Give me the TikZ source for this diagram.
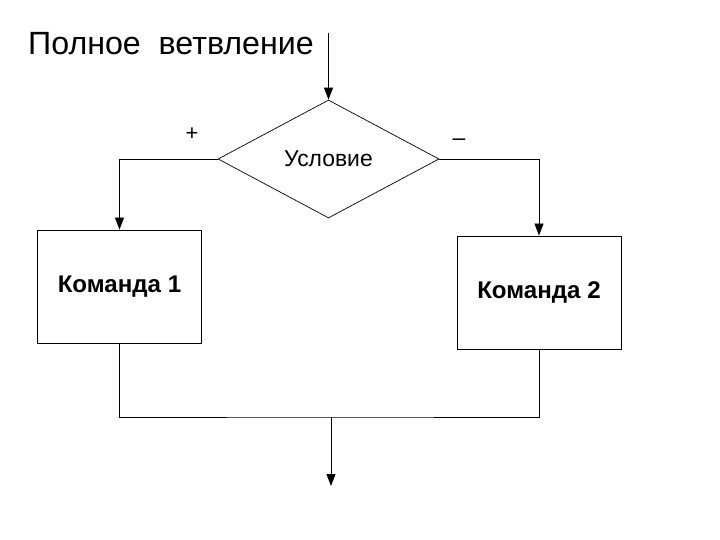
\documentclass[tikz,border=0pt]{standalone}
\usepackage{fontspec}
\setmainfont{Liberation Sans}
\usetikzlibrary{positioning,shapes,arrows.meta}

\begin{document}
\begin{tikzpicture}[x=1bp,y=-1bp]
\tikzstyle{every node}+=[inner sep=0pt]
\tikzstyle{block}=[draw=black, line width=0.9bp, rectangle, minimum width=164bp, minimum height=113bp, font=\fontsize{24.2}{27}\selectfont\bfseries]
\tikzstyle{cond}=[draw=black, line width=0.7bp, diamond, minimum width=221bp, minimum height=118bp, font=\fontsize{23}{26}\selectfont]
\tikzstyle{link}=[black, line width=0.9bp]
\tikzstyle{arr}=[link, -{Triangle[width=9bp,length=12bp]}]
\useasboundingbox (0,0) rectangle (720,540);
\node [anchor=base west, font=\fontsize{32.3}{36}\selectfont] (title) at (28,55) {Полное\ \ ветвление};
\node [cond] (cond) at (328.5,159) {Условие};
\node [block] (cmd1) at (119.5,286.5) {Команда 1};
\node [block] (cmd2) at (539,292.5) {Команда 2};
\node [font=\fontsize{22}{25}\selectfont] (plus) at (192,134) {+};
\node [font=\fontsize{23}{26}\selectfont] (minus) at (459,142) {–};
\coordinate (top) at (328.5,33);
\coordinate (join) at (331,417);
\coordinate (exit) at (331,486);
\draw [arr] (top) -- (cond.north);
\draw [arr] (cond.west) -| (cmd1.north);
\draw [arr] (cond.east) -| (cmd2.north);
\draw [link] (cmd1.south) |- (join) -| (cmd2.south);
\draw [arr] (join) -- (exit);
\end{tikzpicture}
\end{document}
